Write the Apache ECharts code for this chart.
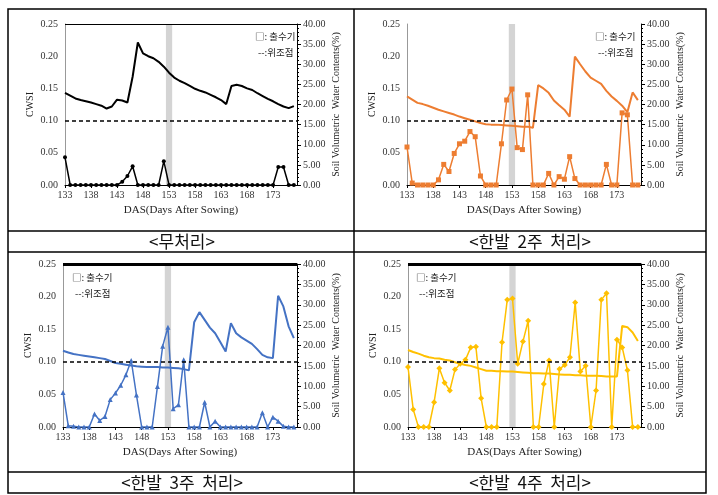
<!DOCTYPE html>
<html><head><meta charset="utf-8">
<script src="https://cdn.jsdelivr.net/npm/echarts@6/dist/echarts.min.js"></script>
<style>html,body{margin:0;padding:0;background:#fff}#c{width:718px;height:495px}</style>
</head><body><div id="c"></div>
<script>
// ---------- data ----------
const days = [133,134,135,136,137,138,139,140,141,142,143,144,145,146,147,148,149,150,151,152,153,154,155,156,157,158,159,160,161,162,163,164,165,166,167,168,169,170,171,172,173,174,175,176,177];
const xTickLabels = [133,138,143,148,153,158,163,168,173];
const panelTitles = ['<무처리>', '<한발  2주  처리>', '<한발  3주  처리>', '<한발  4주  처리>'];
const legendTexts = ['□: 출수기', '--:위조점'];
const headingBand = [152.4, 153.6];
const wiltingCWSI = 0.10;

const cwsiControl = [0.043,0,0,0,0,0,0,0,0,0,0,0.005,0.014,0.029,0,0,0,0,0,0.037,0,0,0,0,0,0,0,0,0,0,0,0,0,0,0,0,0,0,0,0,0,0.028,0.028,0,0];
const soilControl = [22.9,22.2,21.5,21.1,20.8,20.5,20.1,19.7,19.0,19.5,21.2,21.0,20.5,26.9,35.4,32.7,32.0,31.5,30.6,29.4,27.9,26.7,25.9,25.3,24.6,23.9,23.4,23.0,22.4,21.8,21.1,20.1,24.6,24.9,24.6,24.0,23.6,22.8,22.1,21.4,20.8,20.1,19.5,19.1,19.6];

const cwsi2w = [0.059,0.003,0,0,0,0,0.008,0.032,0.021,0.049,0.064,0.068,0.083,0.075,0.014,0,0,0,0.064,0.132,0.149,0.058,0.055,0.140,0,0,0,0.018,0,0.013,0.009,0.044,0.010,0,0,0,0,0,0.032,0,0,0.112,0.109,0,0];
const soil2w = [22.0,21.2,20.4,20.1,19.7,19.2,18.7,18.3,17.9,17.5,17.0,16.6,16.2,15.8,15.4,15.1,15.0,15.0,14.9,14.8,14.7,14.6,14.5,14.5,14.2,24.8,24.0,22.9,21.0,19.8,18.7,17.0,31.9,30.0,28.2,26.7,25.9,25.1,23.4,22.0,20.9,19.7,18.1,23.0,21.1];

const cwsi3w = [0.053,0.002,0.001,0,0,0,0.020,0.010,0.016,0.042,0.052,0.064,0.080,0.102,0.049,0,0,0,0.062,0.124,0.153,0.028,0.034,0.103,0,0,0,0.038,0,0.009,0,0,0,0,0,0,0,0,0.022,0,0.015,0.009,0.001,0,0];
const soil3w = [18.7,18.3,17.9,17.7,17.5,17.3,17.1,16.9,16.7,16.2,15.7,15.5,15.3,15.1,14.9,14.8,14.7,14.7,14.7,14.6,14.6,14.5,14.4,14.2,13.9,25.7,28.2,26.3,24.4,23.0,20.8,18.5,25.5,23.0,22.0,21.2,20.4,19.1,17.7,17.1,16.9,32.2,29.6,24.7,21.8];

const cwsi4w = [0.092,0.027,0,0,0,0.038,0.090,0.068,0.056,0.088,0.097,0.103,0.122,0.123,0.044,0,0,0,0.130,0.195,0.197,0.097,0.131,0.163,0,0,0.066,0.102,0,0.089,0.095,0.107,0.191,0.085,0.094,0,0.056,0.195,0.205,0,0.134,0.122,0.087,0,0];
const soil4w = [18.9,18.4,18.0,17.5,17.1,16.9,16.8,16.5,16.3,15.9,15.5,15.2,15.0,14.6,14.2,13.8,13.8,13.7,13.7,13.6,13.6,13.5,13.4,13.3,13.2,13.2,13.1,13.1,13.0,12.9,12.8,12.8,12.7,12.7,12.6,12.6,12.6,12.5,12.4,12.4,12.4,24.8,24.5,23.2,21.1];

// ---------- layout / style ----------
const SERIF = '"Liberation Serif", "DejaVu Serif", serif';
const KR = '"Noto Sans CJK KR", sans-serif';
const panels = [
  {cwsi: cwsiControl, soil: soilControl, color: '#000000', symbol: 'circle', size: 4, grid: {left: 65, top: 24, width: 232, height: 161}, legend: [255, 38], topLine: 1, cap: [182, 241.5]},
  {cwsi: cwsi2w, soil: soil2w, color: '#ED7D31', symbol: 'rect', size: 5, grid: {left: 407, top: 24, width: 234, height: 161}, legend: [595, 38], topLine: 0, cap: [530, 241.5]},
  {cwsi: cwsi3w, soil: soil3w, color: '#4472C4', symbol: 'triangle', size: 5, grid: {left: 63, top: 264, width: 234, height: 163}, legend: [72, 279], topLine: 3, cap: [182, 482.5]},
  {cwsi: cwsi4w, soil: soil4w, color: '#FFC000', symbol: 'diamond', size: 6, grid: {left: 408, top: 264, width: 233, height: 163}, legend: [416, 279], topLine: 3, cap: [530, 482.5]}
];

const grid = [], xAxis = [], yAxis = [], series = [], graphic = [];
const labelStyle = {fontFamily: SERIF, fontSize: 10, color: '#333'};
panels.forEach((p, i) => {
  grid.push(p.grid);
  xAxis.push({
    type: 'value', gridIndex: i, min: 133, max: 177.6,
    name: 'DAS(Days After Sowing)', nameLocation: 'middle', nameGap: 20,
    nameTextStyle: {fontFamily: SERIF, fontSize: 11, color: '#222'},
    axisLine: {onZero: false, lineStyle: {color: '#000', width: 1}},
    axisTick: {show: true, length: 3, customValues: xTickLabels, lineStyle: {color: '#000'}},
    axisLabel: Object.assign({customValues: xTickLabels, margin: 5}, labelStyle),
    splitLine: {show: false}
  });
  yAxis.push({
    type: 'value', gridIndex: i, position: 'left', min: 0, max: 0.25, interval: 0.05,
    name: 'CWSI', nameLocation: 'middle', nameGap: 30, nameRotate: 90,
    nameTextStyle: {fontFamily: SERIF, fontSize: 10, color: '#222'},
    axisLine: {show: true, lineStyle: {color: '#999', width: 1}},
    axisTick: {show: false},
    axisLabel: Object.assign({margin: 7, formatter: v => v.toFixed(2)}, labelStyle),
    splitLine: {show: false}
  });
  yAxis.push({
    type: 'value', gridIndex: i, position: 'right', min: 0, max: 40, interval: 5,
    name: 'Soil Volumetric  Water Contents(%)', nameLocation: 'middle', nameGap: 34, nameRotate: 90,
    nameTextStyle: {fontFamily: SERIF, fontSize: 10, color: '#222'},
    axisLine: {show: true, lineStyle: {color: '#000', width: 1}},
    axisTick: {show: true, length: 4, lineStyle: {color: '#000'}},
    minorTick: {show: true, splitNumber: 5, length: 2, lineStyle: {color: '#000'}},
    axisLabel: Object.assign({margin: 6, formatter: v => v.toFixed(2)}, labelStyle),
    splitLine: {show: false}
  });
  const ml = [{yAxis: wiltingCWSI, lineStyle: {type: [4, 3], color: '#000', width: 1.5}}];
  if (p.topLine) ml.push({yAxis: 0.25, lineStyle: {type: 'solid', color: '#000', width: p.topLine}});
  series.push({
    type: 'line', xAxisIndex: i, yAxisIndex: 2 * i + 1, z: 3, silent: true,
    data: days.map((d, k) => [d, p.soil[k]]), symbol: 'none',
    lineStyle: {color: p.color, width: 2}
  });
  series.push({
    type: 'line', xAxisIndex: i, yAxisIndex: 2 * i, z: 4, silent: true,
    data: days.map((d, k) => [d, p.cwsi[k]]), symbol: p.symbol, symbolSize: p.size, showSymbol: true,
    lineStyle: {color: p.color, width: 1.5}, itemStyle: {color: p.color},
    markArea: {silent: true, itemStyle: {color: '#d4d4d4'}, data: [[{xAxis: headingBand[0]}, {xAxis: headingBand[1]}]]},
    markLine: {silent: true, symbol: 'none', label: {show: false}, data: ml}
  });
  graphic.push({type: 'text', left: p.legend[0], top: p.legend[1] - 6, style: {text: legendTexts[0], font: '9.5px ' + KR, fill: '#222'}});
  graphic.push({type: 'text', left: p.legend[0] + 3, top: p.legend[1] + 10, style: {text: legendTexts[1], font: '9.5px ' + KR, fill: '#222'}});
  graphic.push({type: 'text', x: p.cap[0], y: p.cap[1], style: {text: panelTitles[i], font: '17px ' + KR, fill: '#111', align: 'center', verticalAlign: 'middle'}});
});
// table frame
const LS = {stroke: '#000', lineWidth: 1.5};
graphic.push({type: 'rect', shape: {x: 8, y: 9, width: 698, height: 484}, style: {fill: 'none', stroke: '#000', lineWidth: 1.5}});
graphic.push({type: 'line', shape: {x1: 354, y1: 9, x2: 354, y2: 493}, style: LS});
[231, 252, 472].forEach(y => graphic.push({type: 'line', shape: {x1: 8, y1: y, x2: 706, y2: y}, style: LS}));

const chart = echarts.init(document.getElementById('c'), null, {renderer: 'canvas'});
chart.setOption({animation: false, backgroundColor: '#fff', grid, xAxis, yAxis, series, graphic});
</script></body></html>
